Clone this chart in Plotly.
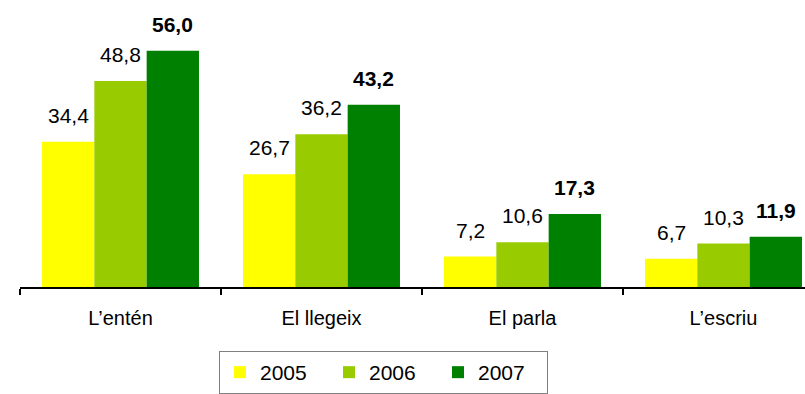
import plotly.graph_objects as go

# Categories and yearly percentages
categories = ["L\u2019entén", "El llegeix", "El parla", "L\u2019escriu"]
years = ["2005", "2006", "2007"]
values_2005 = [34.4, 26.7, 7.2, 6.7]
values_2006 = [48.8, 36.2, 10.6, 10.3]
values_2007 = [56.0, 43.2, 17.3, 11.9]
series = [values_2005, values_2006, values_2007]
colors = ["#FFFF00", "#99CC00", "#008000"]

FONT = "Liberation Sans, Arial, sans-serif"

W, H = 805, 394
ML, MR, MT, MB = 20, 0, 0, 107
plot_w = W - ML - MR
cat_px = 201.0
x_hi = -0.5 + plot_w / cat_px
bargap = 0.219
bar_px = cat_px * (1 - bargap) / 3

fig = go.Figure()
for year, vals, col in zip(years, series, colors):
    fig.add_trace(go.Bar(
        x=categories, y=vals, name=year,
        marker=dict(color=col, line=dict(width=0)),
    ))

# value labels above each bar; the latest year in bold
annotations = []
for i, (year, vals) in enumerate(zip(years, series)):
    for cat, v in zip(categories, vals):
        txt = f"{v:.1f}".replace(".", ",")
        if i == 2:
            txt = f"<b>{txt}</b>"
        annotations.append(dict(
            x=cat, y=v, xref="x", yref="y", text=txt, showarrow=False,
            xanchor="center", yanchor="bottom",
            xshift=(i - 1) * bar_px, yshift=13,
            font=dict(family=FONT, size=21, color="#000000"),
        ))

fig.update_layout(
    width=W, height=H,
    margin=dict(l=ML, r=MR, t=MT, b=MB, pad=0),
    paper_bgcolor="white", plot_bgcolor="white",
    barmode="group", bargap=bargap, bargroupgap=0,
    font=dict(family=FONT, size=20, color="#000000"),
    annotations=annotations,
    showlegend=True,
    legend=dict(
        orientation="h", x=(219 - ML) / plot_w, xanchor="left",
        y=(287 - 351) / 287, yanchor="top",
        bordercolor="#808080", borderwidth=1, bgcolor="white",
        font=dict(family=FONT, size=21, color="#000000"),
        entrywidth=64, entrywidthmode="pixels",
        traceorder="normal",
    ),
    xaxis=dict(
        range=[-0.5, x_hi], showgrid=False, zeroline=False,
        showline=True, linecolor="#000000", linewidth=1.5,
        ticks="outside", tickson="boundaries", ticklen=6,
        tickcolor="#000000", tickwidth=1.5,
        ticklabelstandoff=12,
        tickfont=dict(family=FONT, size=20, color="#000000"),
        fixedrange=True,
    ),
    yaxis=dict(
        range=[0, 287 / 4.22], visible=False, showgrid=False,
        zeroline=False, fixedrange=True,
    ),
)

fig.write_html("out.html")
